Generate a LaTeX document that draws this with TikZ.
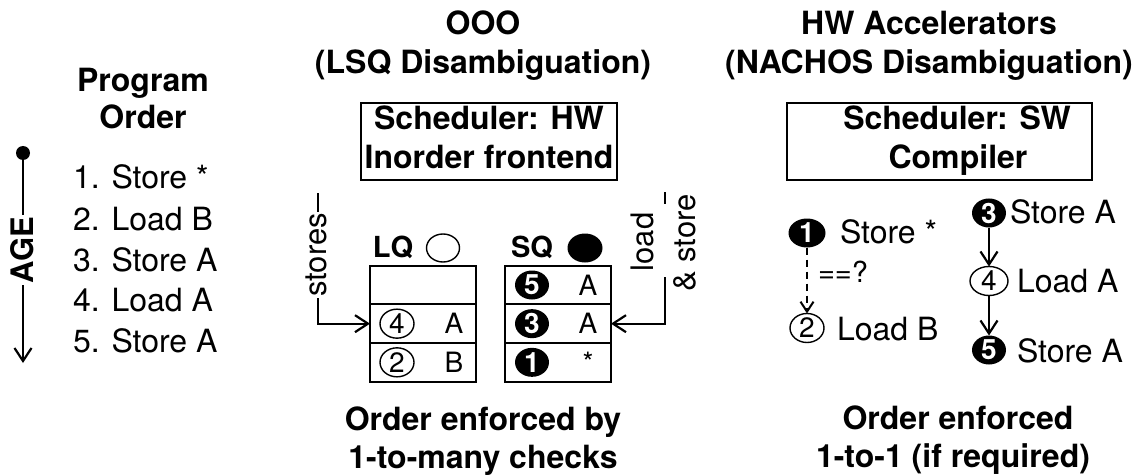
\documentclass[tikz,border=0pt]{standalone}
\usepackage{fontspec}
\setmainfont{TeX Gyre Heros}
\usetikzlibrary{arrows.meta,shapes.geometric}
\begin{document}
\begin{tikzpicture}[x=1pt,y=-1pt,line width=1.8pt,
  every node/.style={inner sep=0pt,outer sep=0pt},
  ttl/.style={font=\fontsize{32}{38}\selectfont\bfseries,anchor=base},
  txt/.style={font=\fontsize{32}{38}\selectfont,anchor=base west},
  lbl/.style={font=\fontsize{29}{34}\selectfont\bfseries,anchor=base},
  celltxt/.style={font=\fontsize{28}{34}\selectfont},
  rottxt/.style={font=\fontsize{31}{36}\selectfont,rotate=90},
  cell/.style={draw,line width=1.8pt,minimum width=106,minimum height=38.67},
  schedbox/.style={draw,line width=2pt},
  onum/.style={draw,ellipse,line width=1.4pt,minimum width=34,minimum height=29,font=\fontsize{28}{34}\selectfont},
  fnum/.style={fill=black,ellipse,minimum width=34,minimum height=29,text=white,font=\fontsize{28}{34}\selectfont\bfseries},
  arr/.style={-{Straight Barb[length=13pt,width=17pt,line width=2.2pt]}},
  darr/.style={dash pattern=on 7pt off 5pt,-{Straight Barb[length=10pt,width=13pt,line width=2pt]}}]
\useasboundingbox (0,0) rectangle (1141,476);

% titles
\node[ttl] (t1a) at (143,92) {Program};
\node[ttl] (t1b) at (143,129) {Order};
\node[ttl] (t2a) at (483,35) {OOO};
\node[ttl] (t2b) at (483,74) {(LSQ Disambiguation)};
\node[ttl] (t3a) at (929,35) {HW Accelerators};
\node[ttl] (t3b) at (929,74) {(NACHOS Disambiguation)};

% age arrow
\node[circle,fill=black,minimum size=14] (agetop) at (23,153) {};
\coordinate (ageend) at (23,363);
\draw[arr] (agetop.center) -- (ageend);
\node[font=\fontsize{31}{36}\selectfont\bfseries,rotate=90,fill=white,inner sep=2pt] (age) at (22,250) {AGE};

% program list
\node[txt] (l1) at (73,189) {1. Store *};
\node[txt] (l2) at (73,230) {2. Load B};
\node[txt] (l3) at (73,271) {3. Store A};
\node[txt] (l4) at (73,311) {4. Load A};
\node[txt] (l5) at (73,352) {5. Store A};

% scheduler boxes
\node[schedbox,minimum width=256,minimum height=77] (hwbox) at (489,141.5) {};
\node[ttl] (hw1) at (489,130) {Scheduler: HW};
\node[ttl] (hw2) at (489,168) {Inorder frontend};
\node[schedbox,minimum width=305,minimum height=77] (swbox) at (939.5,141.5) {};
\node[ttl] (sw1) at (957,130) {Scheduler: SW};
\node[ttl] (sw2) at (958,168) {Compiler};

% LQ / SQ labels
\node[lbl] (lqlab) at (393,257) {LQ};
\node[draw,ellipse,line width=1.4pt,minimum width=33,minimum height=28] (lqsym) at (443,248) {};
\node[lbl] (sqlab) at (532,257) {SQ};
\node[fill=black,ellipse,minimum width=35,minimum height=29] (sqsym) at (585,248) {};

% tables
\node[cell] (lq1) at (423,285) {};
\node[cell] (lq2) at (423,323.67) {};
\node[cell] (lq3) at (423,362.33) {};
\node[cell] (sq1) at (558,285) {};
\node[cell] (sq2) at (558,323.67) {};
\node[cell] (sq3) at (558,362.33) {};

\node[onum] (c4) at (397,323.67) {4};
\node[onum] (c2) at (397,362.33) {2};
\node[celltxt] (la) at (454,323.67) {A};
\node[celltxt] (lb) at (454,362.33) {B};
\node[fnum] (c5) at (532,285) {5};
\node[fnum] (c3) at (532,323.67) {3};
\node[fnum] (c1) at (532,362.33) {1};
\node[celltxt] (sa5) at (588,285) {A};
\node[celltxt] (sa3) at (588,323.67) {A};
\node[celltxt,anchor=base] (sast) at (588,372) {*};

% stores arrow
\coordinate (stTop) at (318,193);
\draw[arr] (stTop) |- (lq2.west);
\node[rottxt,fill=white,inner sep=1pt] (stores) at (316,255) {stores};

% load & store arrow
\coordinate (ldA) at (665,192);
\coordinate (ldB) at (665,204);
\coordinate (ldC) at (665,277);
\draw (ldA) -- (ldB);
\draw[arr] (ldC) |- (sq2.east);
\node[rottxt,anchor=base] (ld1) at (653,242) {load};
\node[rottxt,anchor=base] (ld2) at (695,243) {\& store};

% NACHOS graph
\node[fnum,minimum width=37] (n1) at (807,233) {1};
\node[txt] (n1t) at (840,243) {Store *};
\node[onum] (n2) at (807,328) {2};
\node[txt] (n2t) at (837,340) {Load B};
\draw[darr] (n1) -- (n2);
\node[txt,font=\fontsize{29}{34}\selectfont] (eq) at (818,282) {==?};
\node[fnum] (n3) at (989,213) {3};
\node[txt] (n3t) at (1010,223) {Store A};
\node[onum,minimum width=38] (n4) at (989,281) {4};
\node[txt] (n4t) at (1017,292) {Load A};
\node[fnum] (n5) at (989,350) {5};
\node[txt] (n5t) at (1017,362) {Store A};
\draw[arr] (n3) -- (n4);
\draw[arr] (n4) -- (n5);

% bottom captions
\node[ttl] (b1a) at (483,430) {Order enforced by};
\node[ttl] (b1b) at (483,468) {1-to-many checks};
\node[ttl] (b2a) at (958,429) {Order enforced};
\node[ttl] (b2b) at (953,467) {1-to-1 (if required)};
\end{tikzpicture}
\end{document}
